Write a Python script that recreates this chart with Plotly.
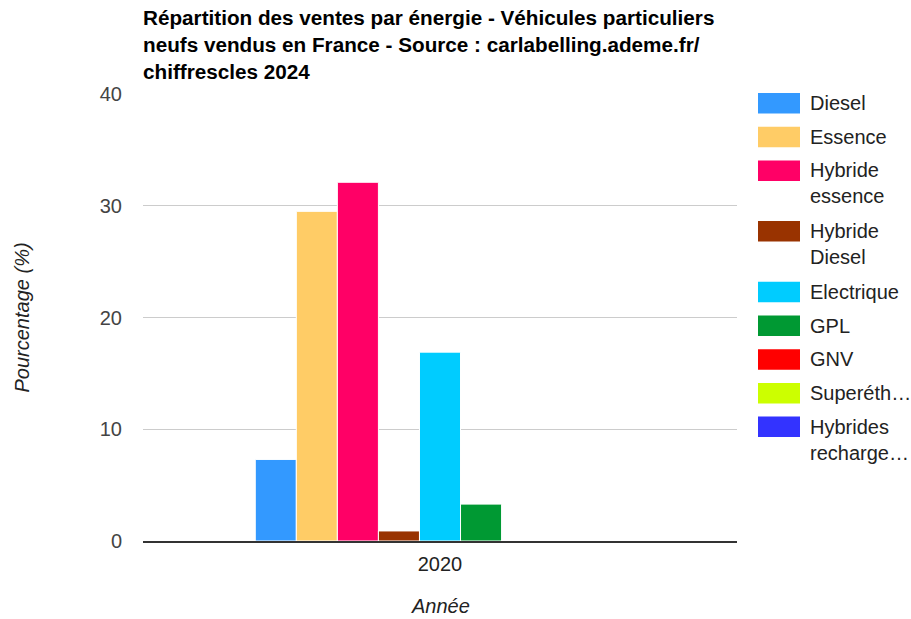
import plotly.graph_objects as go

categories = ["2020"]
series_names = ["Diesel", "Essence", "Hybride essence", "Hybride Diesel", "Electrique",
                "GPL", "GNV", "Superéthanol", "Hybrides rechargeables"]
legend_labels = ["Diesel", "Essence", "Hybride<br>essence", "Hybride<br>Diesel", "Electrique",
                 "GPL", "GNV", "Superéth…", "Hybrides<br>recharge…"]
values = [[7.3], [29.5], [32.1], [0.9], [16.9], [3.3], [0], [0], [0]]
colors = ["#3399FF", "#FFCC66", "#FF0066", "#993300", "#00CCFF",
          "#009933", "#FF0000", "#CCFF00", "#3333FF"]
y_ticks = [0, 10, 20, 30, 40]

W, H = 911, 619
L, R, T, B = 143, 174, 94, 78
FONT = "Liberation Sans, Arial, sans-serif"

fig = go.Figure()
for name, vals, col in zip(series_names, values, colors):
    fig.add_trace(go.Bar(x=categories, y=vals, name=name, marker_color=col,
                         marker_line_color="white", marker_line_width=1,
                         showlegend=False))

# custom legend (Google-Charts-like)
shapes = []
annotations = []
y_px = 93
for lab, col in zip(legend_labels, colors):
    n_lines = lab.count("<br>") + 1
    x0 = (758 - L) / (W - L - R)
    x1 = (800 - L) / (W - L - R)
    ph = H - T - B
    y0 = 1 - (y_px - T) / ph
    y1 = 1 - (y_px + 20.5 - T) / ph
    shapes.append(dict(type="rect", xref="paper", yref="paper", x0=x0, x1=x1, y0=y1, y1=y0,
                       fillcolor=col, line_width=0))
    annotations.append(dict(xref="paper", yref="paper", x=(808 - L) / (W - L - R),
                            y=1 - (y_px + 10 - T) / ph, yshift=-(n_lines - 1) * 13,
                            text=lab, showarrow=False, xanchor="left", yanchor="middle",
                            align="left", font=dict(family=FONT, size=20, color="#222222")))
    y_px += 33.7 + (n_lines - 1) * 27

# axis titles
annotations.append(dict(xref="paper", yref="paper", x=0.5, y=-(606 - (H - B)) / (H - T - B),
                        text="<i>Année</i>", showarrow=False, xanchor="center", yanchor="middle",
                        font=dict(family=FONT, size=20, color="#222222")))
annotations.append(dict(xref="paper", yref="paper", x=-(L - 21) / (W - L - R), y=0.5,
                        text="<i>Pourcentage (%)</i>", showarrow=False, textangle=-90,
                        xanchor="center", yanchor="middle",
                        font=dict(family=FONT, size=20, color="#222222")))

fig.update_layout(
    width=W, height=H,
    margin=dict(l=L, r=R, t=T, b=B, pad=0),
    paper_bgcolor="white", plot_bgcolor="white",
    barmode="group", bargap=0.378, bargroupgap=0,
    font=dict(family=FONT, size=20, color="#444444"),
    title=dict(text="<b>Répartition des ventes par énergie - Véhicules particuliers<br>"
                    "neufs vendus en France - Source : carlabelling.ademe.fr/<br>"
                    "chiffrescles 2024</b>",
               x=L / W, xanchor="left", xref="container",
               y=1 - 25 / H, yanchor="top", yref="container",
               font=dict(family=FONT, size=20.7, color="#000000")),
    shapes=shapes,
    annotations=annotations,
    xaxis=dict(showgrid=False, ticks="", ticklabelstandoff=4,
               tickfont=dict(size=20, color="#222222"), showline=True,
               linecolor="#333333", linewidth=2, zeroline=False),
    yaxis=dict(range=[0, 40], tickvals=y_ticks, showgrid=True, gridcolor="#cccccc",
               gridwidth=1, zeroline=False,
               ticks="", ticklabelstandoff=20, tickfont=dict(size=20, color="#444444"),
               showline=False),
)

fig.write_html("out.html", config={"displayModeBar": False},
               post_script="document.body.style.margin='0';document.body.style.overflow='hidden';")
